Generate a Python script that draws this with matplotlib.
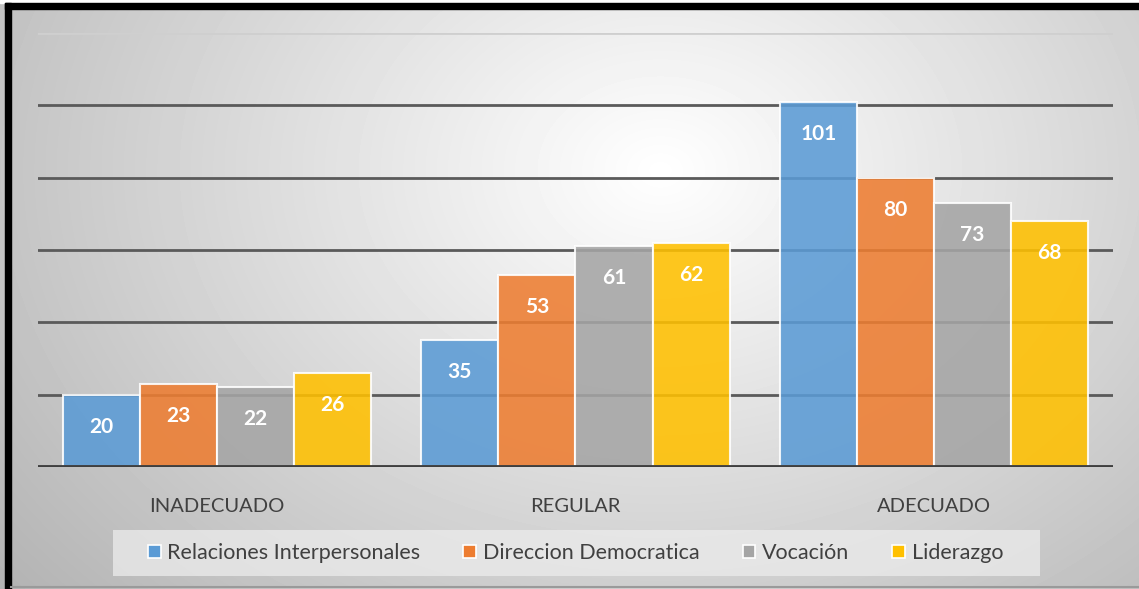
import numpy as np
import matplotlib.pyplot as plt
from matplotlib.patches import Rectangle

plt.rcParams['font.family'] = ['Lato', 'DejaVu Sans']

categorias = ['INADECUADO', 'REGULAR', 'ADECUADO']
series = ['Relaciones Interpersonales', 'Direccion Democratica', 'Vocación', 'Liderazgo']
relaciones = [20, 35, 101]
direccion = [23, 53, 80]
vocacion = [22, 61, 73]
liderazgo = [26, 62, 68]
valores = [relaciones, direccion, vocacion, liderazgo]
colores = ['#5B9BD5', '#ED7D31', '#A5A5A5', '#FFC000']

W, H = 1139, 589
fig = plt.figure(figsize=(W / 100, H / 100), dpi=100)

# fondo con degradado radial
bg = fig.add_axes([0, 0, 1, 1])
yy, xx = np.mgrid[0:H, 0:W]
d = np.sqrt(((xx - 660) / 680.0) ** 2 + ((yy - 170) / 520.0) ** 2)
shade = 1.0 - 0.27 * np.clip(d, 0, 1.25) / 1.25 * 1.1
bg.imshow(shade, cmap='gray', vmin=0, vmax=1, extent=[0, W, H, 0], aspect='auto')
bg.set_xlim(0, W)
bg.set_ylim(H, 0)
bg.axis('off')
# marco negro
bg.add_patch(Rectangle((0, 0), W, 3, color='white', zorder=3))
bg.add_patch(Rectangle((5, 3), W - 5, 6, color='black', zorder=4))
bg.add_patch(Rectangle((5, 3), 6, H - 3, color='black', zorder=4))
bg.plot([11, W], [587, 587], color='#9a9a9a', lw=1.5, zorder=4)
# caja de la leyenda
bg.add_patch(Rectangle((113, 530), 927, 46, facecolor='#ececec', alpha=0.75,
                       edgecolor='none', zorder=2))

ax = fig.add_axes([38 / W, 1 - 467 / H, (1113 - 38) / W, (467 - 33) / H])
ax.patch.set_alpha(0)
ax.set_xlim(-0.5, 2.5)
ax.set_ylim(0, 120)

for v in [20, 40, 60, 80, 100]:
    ax.axhline(v, color='#5a5a5a', lw=2, zorder=1)
ax.axhline(120, color='#cfcfcf', lw=2, zorder=1)
ax.axhline(0, color='#3f3f3f', lw=3.5, zorder=4)

x = np.arange(len(categorias))
ancho = 0.215
for i, (nombre, vals, c) in enumerate(zip(series, valores, colores)):
    pos = x + (i - 1.5) * ancho
    barras = ax.bar(pos, vals, ancho, color=c, alpha=0.88, edgecolor='white',
                    linewidth=1.5, zorder=2, label=nombre)
    for b, v in zip(barras, vals):
        ax.annotate(str(v), (b.get_x() + b.get_width() / 2, v), xytext=(0, -32),
                    textcoords='offset pixels',
                    ha='center', va='center', color='white', fontsize=15,
                    fontweight='bold', zorder=5)

ax.set_xticks(x)
ax.set_xticklabels(categorias, fontsize=14.5, color='#404040')
ax.tick_params(axis='x', length=0, pad=22)
ax.set_yticks([])
for s in ax.spines.values():
    s.set_visible(False)

leg = ax.legend(loc='center', bbox_to_anchor=(0.5, -0.198), ncol=4, frameon=False,
                fontsize=15.5, handlelength=0.6, handleheight=0.6, handletextpad=0.3,
                columnspacing=2.0, labelcolor='#404040')
for h in leg.legend_handles:
    h.set_edgecolor('white')
    h.set_linewidth(1.2)
    h.set_alpha(1)

fig.savefig('out.png', dpi=100)
